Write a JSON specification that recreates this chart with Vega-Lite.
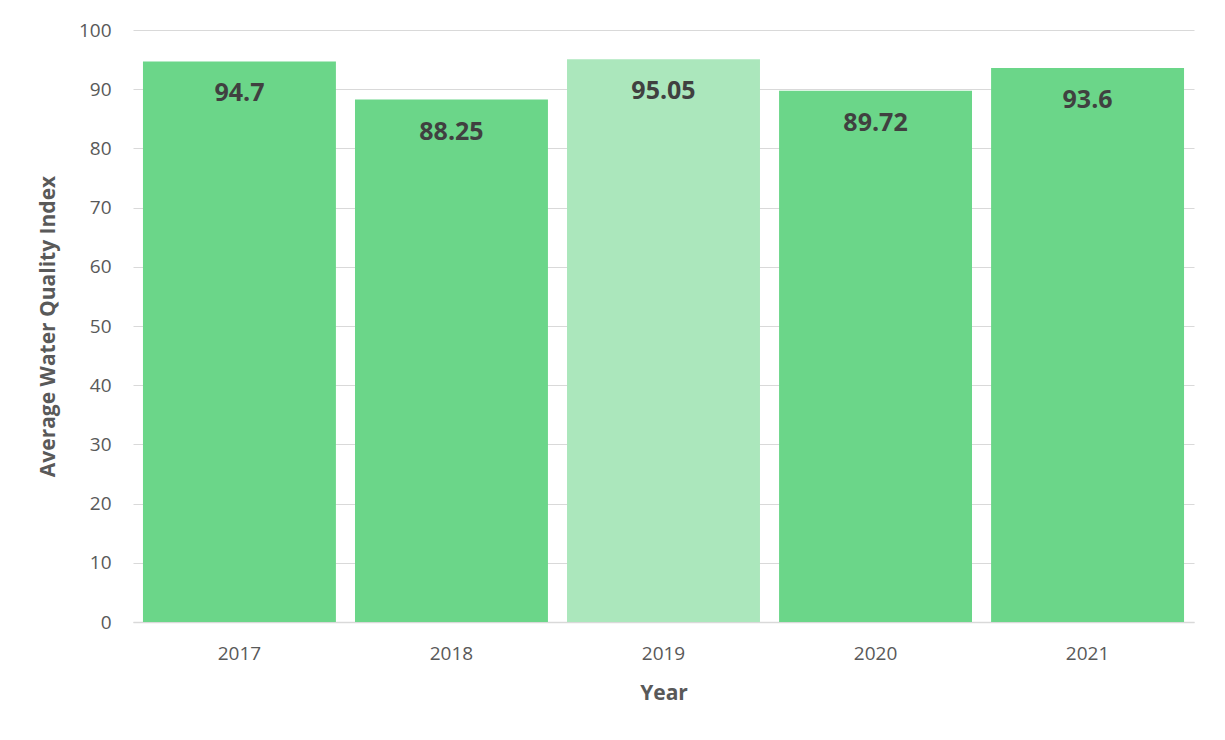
{
  "$schema": "https://vega.github.io/schema/vega-lite/v6.json",
  "width": 1061,
  "height": 592,
  "autosize": "none",
  "padding": {"left": 133, "top": 30, "right": 31, "bottom": 118},
  "background": "white",
  "config": {"view": {"stroke": null}, "font": "Open Sans"},
  "data": {"values": [
    {"Year": "2017", "Value": 94.7, "Label": "94.7", "Hl": "no"},
    {"Year": "2018", "Value": 88.25, "Label": "88.25", "Hl": "no"},
    {"Year": "2019", "Value": 95.05, "Label": "95.05", "Hl": "yes"},
    {"Year": "2020", "Value": 89.72, "Label": "89.72", "Hl": "no"},
    {"Year": "2021", "Value": 93.6, "Label": "93.6", "Hl": "no"}
  ]},
  "encoding": {
    "x": {
      "field": "Year", "type": "ordinal",
      "scale": {"paddingInner": 0.09, "paddingOuter": 0.047},
      "axis": {
        "title": "Year", "titleFont": "Open Sans", "titleFontSize": 21, "titleFontWeight": "bold",
        "titleColor": "#595959", "titlePadding": 19,
        "labelAngle": 0, "labelFontSize": 19, "labelColor": "#595959", "labelPadding": 22,
        "ticks": false, "domainColor": "#d9d9d9", "domainWidth": 1.5
      }
    },
    "y": {
      "field": "Value", "type": "quantitative",
      "scale": {"domain": [0, 100], "nice": false},
      "axis": {
        "title": "Average Water Quality Index", "titleFont": "Open Sans", "titleFontSize": 21,
        "titleFontWeight": "bold", "titleColor": "#595959", "titlePadding": 20,
        "values": [0, 10, 20, 30, 40, 50, 60, 70, 80, 90, 100],
        "labelFontSize": 19, "labelColor": "#595959", "labelPadding": 22,
        "ticks": false, "domain": false, "gridColor": "#d9d9d9", "gridWidth": 1.2
      }
    }
  },
  "layer": [
    {
      "mark": {"type": "bar"},
      "encoding": {
        "color": {
          "field": "Hl", "type": "nominal",
          "scale": {"domain": ["no", "yes"], "range": ["#6BD689", "#ABE7BC"]},
          "legend": null
        }
      }
    },
    {
      "mark": {"type": "text", "baseline": "top", "dy": 20, "fontSize": 25, "fontWeight": "bold", "color": "#404040", "font": "Open Sans"},
      "encoding": {"text": {"field": "Label"}}
    }
  ]
}
